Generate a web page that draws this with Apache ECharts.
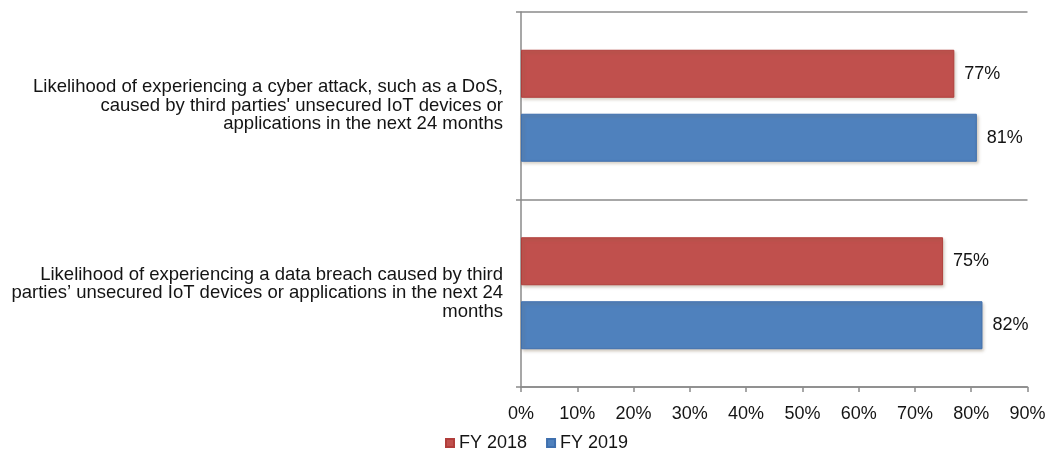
<!DOCTYPE html>
<html>
<head>
<meta charset="utf-8">
<script src="https://cdn.jsdelivr.net/npm/echarts@6/dist/echarts.min.js"></script>
<style>
  html, body { margin: 0; padding: 0; background: #ffffff; }
  #chart { width: 1049px; height: 452px; }
</style>
</head>
<body>
<div id="chart"></div>
<script>
// Survey questions (top to bottom)
const categories = [
  "Likelihood of experiencing a cyber attack, such as a DoS,\ncaused by third parties' unsecured IoT devices or\napplications in the next 24 months",
  "Likelihood of experiencing a data breach caused by third\nparties\u2019 unsecured IoT devices or applications in the next 24\nmonths"
];
const seriesNames = ["FY 2018", "FY 2019"];
const fy2018 = [77, 75];
const fy2019 = [81, 82];
const xTicks = { min: 0, max: 90, step: 10 };

const FONT = "Liberation Sans, Arial, sans-serif";
const TEXT = "#141414";
const AXIS = "#8a8a8a";

const chart = echarts.init(document.getElementById("chart"), null, { renderer: "canvas" });

function barSeries(name, data, fill, edge) {
  return {
    name: name,
    type: "bar",
    data: data,
    barWidth: 48,
    barGap: "33.3%",
    itemStyle: {
      color: fill,
      borderColor: edge,
      borderWidth: 1,
      shadowColor: "rgba(120,100,70,0.35)",
      shadowBlur: 3,
      shadowOffsetX: 1.5,
      shadowOffsetY: 2
    },
    label: {
      show: true,
      position: "right",
      distance: 10,
      formatter: p => p.value + "%",
      fontFamily: FONT,
      fontSize: 18,
      color: TEXT
    },
    emphasis: { disabled: true }
  };
}

chart.setOption({
  animation: false,
  backgroundColor: "#ffffff",
  grid: { left: 521, right: 21.5, top: 12, bottom: 65, containLabel: false },
  legend: {
    data: seriesNames,
    left: 445,
    top: 434,
    padding: 0,
    icon: "rect",
    itemWidth: 8,
    itemHeight: 8,
    itemGap: 19,
    textStyle: { fontFamily: FONT, fontSize: 18, color: TEXT }
  },
  xAxis: {
    type: "value",
    min: xTicks.min,
    max: xTicks.max,
    interval: xTicks.step,
    axisLine: { show: true, lineStyle: { color: AXIS, width: 1.5 } },
    axisTick: { show: true, length: 5, lineStyle: { color: AXIS, width: 1.5 } },
    splitLine: { show: false },
    axisLabel: {
      formatter: v => v + "%",
      fontFamily: FONT,
      fontSize: 18,
      color: TEXT,
      margin: 18
    }
  },
  yAxis: {
    type: "category",
    data: categories,
    inverse: true,
    axisLine: { show: true, lineStyle: { color: AXIS, width: 1.5 } },
    axisTick: { show: true, length: 5, lineStyle: { color: AXIS, width: 1.5 } },
    splitLine: { show: true, lineStyle: { color: AXIS, width: 1.5 } },
    axisLabel: {
      fontFamily: FONT,
      fontSize: 18.5,
      lineHeight: 18.5,
      color: TEXT,
      align: "right",
      margin: 18
    }
  },
  series: [
    barSeries(seriesNames[0], fy2018, "#C0504D", "#B13E3B"),
    barSeries(seriesNames[1], fy2019, "#4F81BD", "#3F70AE")
  ]
});
</script>
</body>
</html>
